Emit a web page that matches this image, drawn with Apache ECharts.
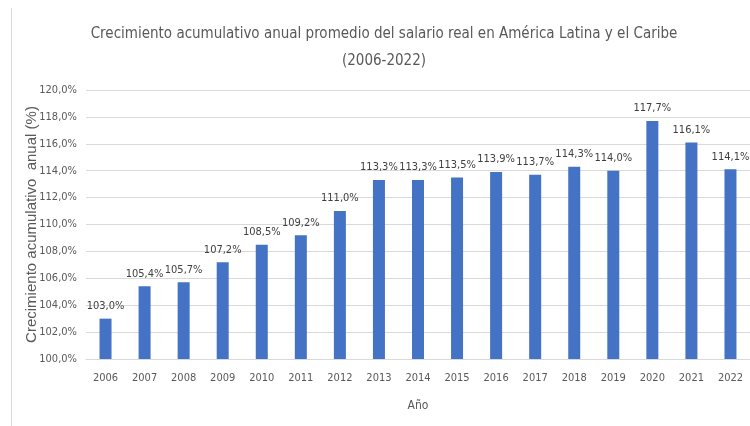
<!DOCTYPE html>
<html>
<head>
<meta charset="utf-8">
<script src="https://cdn.jsdelivr.net/npm/echarts@6/dist/echarts.min.js"></script>
<style>
  html, body { margin: 0; padding: 0; background: #fff; }
  #chart { width: 750px; height: 426px; }
</style>
</head>
<body>
<div id="chart"></div>
<script>
// Años y crecimiento acumulativo del salario real (%)
const years = ['2006', '2007', '2008', '2009', '2010', '2011', '2012', '2013', '2014',
  '2015', '2016', '2017', '2018', '2019', '2020', '2021', '2022'];
const wageGrowth = [103.0, 105.4, 105.7, 107.2, 108.5, 109.2, 111.0, 113.3, 113.3,
  113.5, 113.9, 113.7, 114.3, 114.0, 117.7, 116.1, 114.1];
const yTicks = { min: 100, max: 120, step: 2 };

const narrow = "'DejaVu Sans Condensed', 'Liberation Sans', sans-serif";
const textColor = '#595959';
const fmt = v => v.toFixed(1).replace('.', ',') + '%';

const chart = echarts.init(document.getElementById('chart'), null, { renderer: 'canvas' });
chart.setOption({
  backgroundColor: '#ffffff',
  animation: false,
  title: {
    text: 'Crecimiento acumulativo anual promedio del salario real en América Latina y el Caribe\n(2006-2022)',
    left: 379,
    textAlign: 'center',
    top: 16,
    textStyle: {
      fontFamily: narrow,
      fontSize: 15,
      fontWeight: 'normal',
      color: textColor,
      lineHeight: 27
    }
  },
  graphic: [{
    type: 'line',
    shape: { x1: 11.5, y1: 8, x2: 11.5, y2: 426 },
    style: { stroke: '#d9d9d9', lineWidth: 1 }
  }],
  grid: { left: 86, right: 0, top: 90, bottom: 67 },
  xAxis: {
    type: 'category',
    data: years,
    name: 'Año',
    nameLocation: 'middle',
    nameGap: 41,
    nameTextStyle: { fontFamily: narrow, fontSize: 12, color: textColor },
    axisLine: { lineStyle: { color: '#d9d9d9' } },
    axisTick: { show: false },
    axisLabel: { fontFamily: narrow, fontSize: 11, color: textColor, margin: 14 }
  },
  yAxis: {
    type: 'value',
    min: yTicks.min,
    max: yTicks.max,
    interval: yTicks.step,
    name: 'Crecimiento acumulativo  anual (%)',
    nameLocation: 'middle',
    nameGap: 47,
    nameMoveOverlap: false,
    nameTextStyle: { fontFamily: "'Liberation Sans', sans-serif", fontSize: 15, color: textColor },
    axisLine: { show: false },
    axisTick: { show: false },
    splitLine: { lineStyle: { color: '#d9d9d9' } },
    axisLabel: { fontFamily: narrow, fontSize: 11, color: textColor, margin: 9, formatter: fmt }
  },
  series: [{
    type: 'bar',
    data: wageGrowth,
    barWidth: 12,
    itemStyle: { color: '#4472c4' },
    label: {
      show: true,
      position: 'top',
      distance: 7,
      fontFamily: narrow,
      fontSize: 11,
      color: '#404040',
      formatter: p => fmt(p.value)
    }
  }]
});
</script>
</body>
</html>
